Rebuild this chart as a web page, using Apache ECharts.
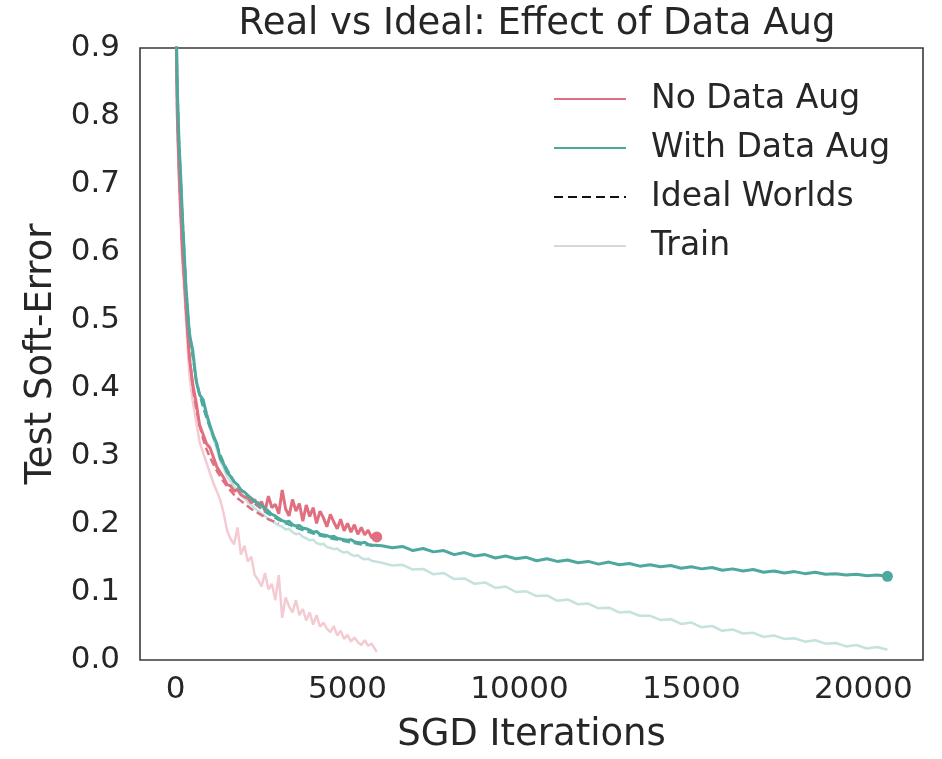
<!DOCTYPE html>
<html>
<head>
<meta charset="utf-8">
<script src="https://cdn.jsdelivr.net/npm/echarts@6/dist/echarts.min.js"></script>
<style>html,body{margin:0;padding:0;background:#fff;}#chart{width:942px;height:759px;}</style>
</head>
<body>
<div id="chart"></div>
<script>
// ---- data ----
var itersShort = [0,50,100,150,200,250,300,400,500,600,700,800,900,1000,1100,1200,1300,1400,1500,1600,1700,1800,1900,2000,2100,2200,2300,2400,2500,2600,2700,2800,2900,3000,3100,3200,3300,3400,3500,3600,3700,3800,3900,4000,4100,4200,4300,4400,4500,4600,4700,4800,4900,5000,5100,5200,5300,5400,5500,5600,5700,5850];
var itersLongTail = [6000,6300,6600,6900,7200,7500,7800,8100,8400,8700,9000,9300,9600,9900,10200,10500,10800,11100,11400,11700,12000,12300,12600,12900,13200,13500,13800,14100,14400,14700,15000,15300,15600,15900,16200,16500,16800,17100,17400,17700,18000,18300,18600,18900,19200,19500,19800,20100,20400,20700];

var noAugTest = [0.98,0.80,0.72,0.66,0.60,0.565,0.52,0.445,0.405,0.378,0.345,0.332,0.318,0.312,0.298,0.284,0.276,0.268,0.258,0.256,0.248,0.251,0.243,0.240,0.238,0.231,0.236,0.226,0.233,0.219,0.241,0.224,0.229,0.215,0.250,0.222,0.212,0.236,0.219,0.230,0.204,0.228,0.211,0.224,0.201,0.219,0.209,0.196,0.214,0.203,0.193,0.207,0.190,0.201,0.188,0.199,0.185,0.195,0.184,0.191,0.180,0.181];
var noAugTrain = [0.98,0.79,0.70,0.64,0.58,0.545,0.50,0.42,0.38,0.35,0.32,0.305,0.29,0.275,0.26,0.248,0.235,0.215,0.19,0.178,0.17,0.195,0.155,0.168,0.145,0.152,0.125,0.118,0.108,0.128,0.104,0.112,0.088,0.125,0.062,0.092,0.079,0.070,0.088,0.066,0.075,0.058,0.070,0.052,0.066,0.049,0.055,0.046,0.041,0.050,0.036,0.043,0.031,0.037,0.027,0.033,0.026,0.022,0.029,0.021,0.024,0.012];
var idealItersNoAug = [0,50,100,150,200,250,300,400,500,600,700,800,900,1000,1100,1200,1300,1400,1500,1600,1700,1800,1900,2000,2100,2200,2300,2400,2500,2600,2700,2800,2900,3000];
var noAugIdeal = [0.98,0.80,0.72,0.655,0.60,0.56,0.52,0.45,0.40,0.37,0.345,0.325,0.31,0.298,0.288,0.278,0.27,0.262,0.255,0.249,0.243,0.238,0.234,0.23,0.226,0.222,0.219,0.216,0.213,0.21,0.207,0.205,0.203,0.201];

var withAugTestShort = [1.0,0.84,0.76,0.71,0.65,0.60,0.55,0.48,0.455,0.41,0.39,0.383,0.362,0.345,0.33,0.318,0.296,0.288,0.276,0.270,0.262,0.258,0.250,0.247,0.242,0.238,0.233,0.231,0.227,0.223,0.219,0.214,0.212,0.208,0.205,0.203,0.204,0.199,0.197,0.198,0.194,0.193,0.191,0.188,0.189,0.185,0.184,0.183,0.181,0.182,0.179,0.178,0.177,0.176,0.177,0.174,0.173,0.172,0.173,0.170,0.169,0.169];
var withAugTestTail = [0.168,0.165,0.167,0.161,0.164,0.159,0.161,0.155,0.158,0.153,0.155,0.150,0.153,0.149,0.151,0.146,0.149,0.145,0.147,0.143,0.145,0.141,0.144,0.140,0.142,0.138,0.140,0.137,0.139,0.135,0.137,0.134,0.136,0.132,0.134,0.131,0.133,0.129,0.131,0.128,0.130,0.127,0.129,0.126,0.127,0.125,0.126,0.124,0.125,0.123];
var withAugTrainShort = [1.0,0.84,0.76,0.70,0.645,0.595,0.545,0.478,0.45,0.41,0.39,0.38,0.36,0.34,0.325,0.31,0.292,0.282,0.27,0.262,0.255,0.249,0.242,0.238,0.232,0.228,0.223,0.219,0.215,0.212,0.207,0.204,0.201,0.198,0.196,0.192,0.193,0.188,0.185,0.186,0.181,0.179,0.176,0.177,0.172,0.170,0.171,0.166,0.165,0.163,0.164,0.160,0.158,0.159,0.155,0.153,0.154,0.150,0.148,0.149,0.146,0.145];
var withAugTrainTail = [0.143,0.139,0.140,0.133,0.134,0.126,0.128,0.119,0.120,0.112,0.114,0.106,0.108,0.100,0.101,0.094,0.095,0.087,0.089,0.082,0.083,0.076,0.077,0.070,0.071,0.065,0.065,0.059,0.060,0.053,0.055,0.048,0.050,0.043,0.045,0.039,0.040,0.034,0.036,0.031,0.032,0.027,0.029,0.024,0.025,0.020,0.022,0.017,0.019,0.015];
var withAugIdeal = [1.0,0.84,0.76,0.705,0.65,0.60,0.55,0.485,0.445,0.412,0.39,0.372,0.356,0.342,0.328,0.315,0.302,0.29,0.28,0.271,0.263,0.256,0.25,0.244,0.239,0.234,0.23,0.226,0.222,0.218,0.215,0.212,0.209,0.206,0.204,0.201,0.199,0.197,0.195,0.193,0.191,0.189,0.188,0.186,0.185,0.183,0.182,0.181,0.179,0.178,0.177,0.176,0.175,0.174,0.173,0.172,0.171,0.170,0.169,0.169,0.168,0.168];

var xTicks = [0,5000,10000,15000,20000];
var yTicks = [0,0.1,0.2,0.3,0.4,0.5,0.6,0.7,0.8,0.9];

// ---- styling ----
var RED = '#e0707f';
var TEAL = '#4ea89e';
var RED_LIGHT = '#f4cbd2';
var TEAL_LIGHT = '#c4e2de';
var FONT = 'DejaVu Sans';
var TXT = '#262626';

function pairs(xs, ys) { return xs.map(function (x, i) { return [x, ys[i]]; }); }
function withEndDot(arr) {
  var out = arr.slice(0, -1);
  out.push({ value: arr[arr.length - 1], symbol: 'circle', symbolSize: 11 });
  return out;
}
var longIters = itersShort.slice(0, -1).concat(itersLongTail);
var withAugTest = withAugTestShort.slice(0, -1).concat(withAugTestTail);
var withAugTrain = withAugTrainShort.slice(0, -1).concat(withAugTrainTail);

var chart = echarts.init(document.getElementById('chart'), null, { renderer: 'canvas' });
var lineBase = { type: 'line', symbol: 'none', showSymbol: true, animation: false, silent: true, z: 2 };

chart.setOption({
  backgroundColor: '#ffffff',
  animation: false,
  title: {
    text: 'Real vs Ideal: Effect of Data Aug',
    left: 532, top: 1, textAlign: 'center',
    textStyle: { fontFamily: FONT, fontSize: 37, fontWeight: 'normal', color: TXT }
  },
  grid: { left: 140, right: 19, top: 48, bottom: 89, show: true, borderColor: '#3a3a3a', borderWidth: 1.6, containLabel: false },
  legend: {
    orient: 'vertical', left: 548, top: 76,
    data: ['No Data Aug', 'With Data Aug', 'Ideal Worlds', 'Train'],
    itemWidth: 72, itemHeight: 14, itemGap: 13,
    itemStyle: { opacity: 0 },
    textStyle: { fontFamily: FONT, fontSize: 33, color: TXT, padding: [0, 0, 0, 20], lineHeight: 36 },
    selectedMode: false
  },
  xAxis: {
    type: 'value', min: -1035, max: 21735,
    axisLine: { show: false }, axisTick: { show: false }, splitLine: { show: false },
    axisLabel: { customValues: xTicks, fontFamily: FONT, fontSize: 31, color: TXT, margin: 14,
      formatter: function (v) { return String(v); } },
    name: 'SGD Iterations', nameLocation: 'middle', nameGap: 57,
    nameTextStyle: { fontFamily: FONT, fontSize: 37, color: TXT }
  },
  yAxis: {
    type: 'value', min: 0, max: 0.9, interval: 0.1,
    axisLine: { show: false }, axisTick: { show: false }, splitLine: { show: false },
    axisLabel: { customValues: yTicks, fontFamily: FONT, fontSize: 31, color: TXT, margin: 20,
      formatter: function (v) { return v.toFixed(1); } },
    name: 'Test Soft-Error', nameLocation: 'middle', nameGap: 74,
    nameTextStyle: { fontFamily: FONT, fontSize: 37, color: TXT }
  },
  series: [
    Object.assign({}, lineBase, { name: 'noAugTrain', data: pairs(itersShort, noAugTrain), lineStyle: { color: RED_LIGHT, width: 2.5 }, itemStyle: { color: RED_LIGHT }, z: 1 }),
    Object.assign({}, lineBase, { name: 'withAugTrain', data: pairs(longIters, withAugTrain), lineStyle: { color: TEAL_LIGHT, width: 2.5 }, itemStyle: { color: TEAL_LIGHT }, z: 1 }),
    Object.assign({}, lineBase, { name: 'noAugIdeal', data: pairs(idealItersNoAug, noAugIdeal), lineStyle: { color: RED, width: 2.5, type: [8, 4] }, itemStyle: { color: RED } }),
    Object.assign({}, lineBase, { name: 'withAugIdeal', data: pairs(itersShort, withAugIdeal), lineStyle: { color: TEAL, width: 2.5, type: [8, 4] }, itemStyle: { color: TEAL } }),
    Object.assign({}, lineBase, { name: 'No Data Aug', data: withEndDot(pairs(itersShort, noAugTest)), lineStyle: { color: RED, width: 3 }, itemStyle: { color: RED }, z: 3 }),
    Object.assign({}, lineBase, { name: 'With Data Aug', data: withEndDot(pairs(longIters, withAugTest)), lineStyle: { color: TEAL, width: 3 }, itemStyle: { color: TEAL }, z: 4 }),
    Object.assign({}, lineBase, { name: 'Ideal Worlds', data: [], lineStyle: { color: '#111111', width: 2, type: [9, 5] }, itemStyle: { color: '#111111' } }),
    Object.assign({}, lineBase, { name: 'Train', data: [], lineStyle: { color: '#d8d8d8', width: 2.5 }, itemStyle: { color: '#d8d8d8' } })
  ]
});
</script>
</body>
</html>
